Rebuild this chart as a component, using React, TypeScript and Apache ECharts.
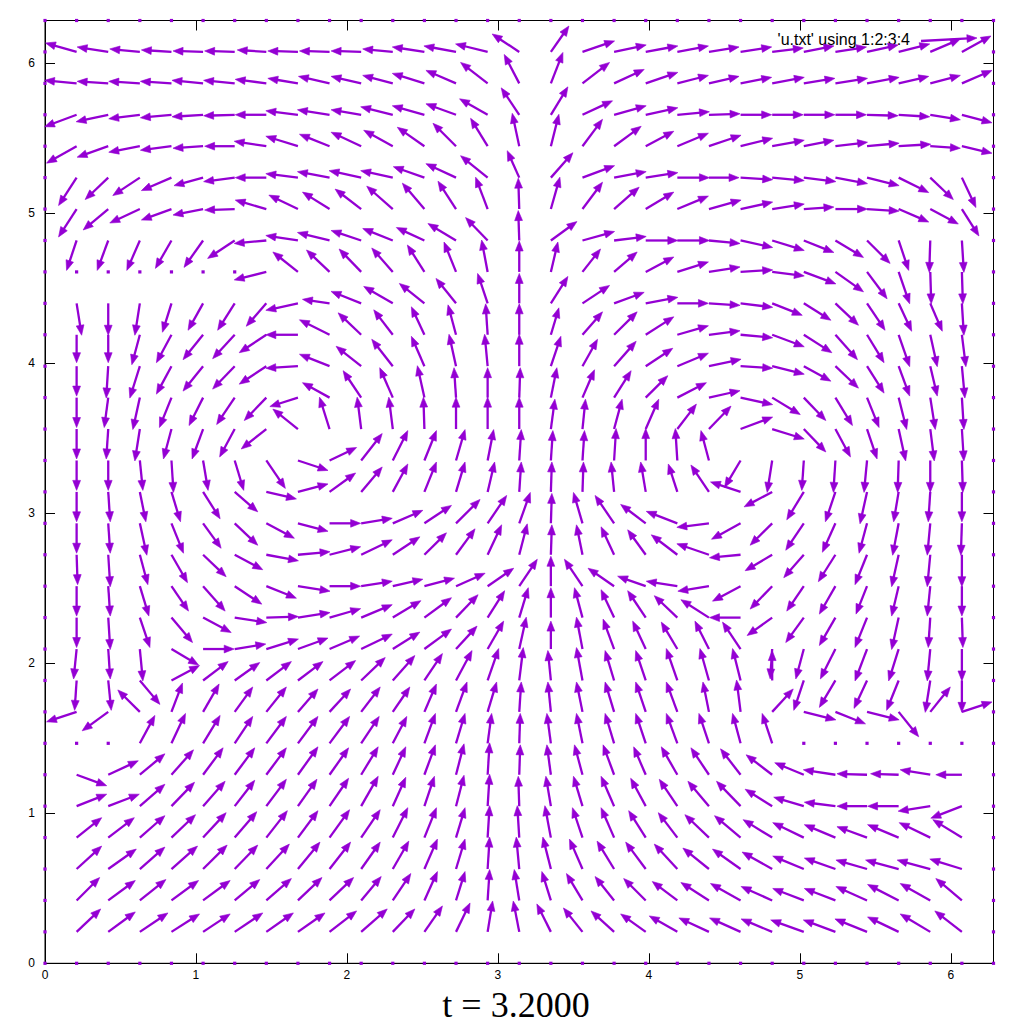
import React, { useEffect, useRef } from 'react';
import * as echarts from 'echarts';

// grid: 31 x 31 nodes from 0 to 2*pi (30 intervals)
const N_INT = 30;
const STEP = (2 * Math.PI) / N_INT;
// vector components below are recorded in 1/150.5 of an axis unit
const VEC_UNIT = 1 / 150.5;

const X_TICKS = [0, 1, 2, 3, 4, 5, 6];
const Y_TICKS = [0, 1, 2, 3, 4, 5, 6];
const TITLE = 't = 3.2000';
const LEGEND_LABEL = "'u.txt' using 1:2:3:4";
const COLOR = '#9400d3';

// rows j = 1..29 (bottom to top), columns i = 1..29 (left to right)
const U_ROWS: number[][] = [
  [24,27,28,28,27,28,27,27,27,26,22,18,14,5,-6,-14,-19,-23,-25,-28,-30,-31,-31,-33,-32,-32,-31,-30,-27],
  [23,27,26,27,27,25,25,24,24,20,18,13,9,2,-5,-9,-16,-19,-22,-25,-28,-30,-31,-31,-31,-31,-31,-30,-26],
  [25,28,25,26,24,23,23,22,21,19,16,13,9,2,-3,-8,-13,-17,-20,-23,-26,-28,-30,-31,-31,-31,-33,-33,-32],
  [25,26,25,24,23,22,21,20,20,19,15,12,9,2,-2,-6,-10,-13,-17,-19,-24,-26,-29,-31,-31,-30,-31,-31,-29],
  [30,31,25,23,22,20,20,19,19,17,13,10,8,2,-1,-5,-9,-13,-15,-18,-21,-24,-27,-30,-31,-30,-31,-32,-31],
  [30,30,25,22,20,20,20,20,19,17,13,11,8,2,1,-4,-8,-11,-12,-16,-18,-20,-26,-29,-32,-30,-28,-30,-26],
  [0,0,15,14,17,18,20,20,20,18,14,11,9,4,1,-4,-6,-9,-10,-11,-10,-8,-10,0,0,0,0,0,0],
  [-30,-26,-22,11,16,18,20,20,21,19,17,12,11,9,2,-3,-6,-9,-10,-11,-6,-4,21,32,30,32,20,20,30],
  [-2,3,20,28,25,25,25,25,26,24,22,18,16,11,4,-3,-6,-9,-10,-11,-9,-8,0,-10,-16,-13,-12,-5,0],
  [-3,2,3,27,31,31,32,30,30,31,27,27,21,16,7,0,-6,-11,-13,-16,-14,-18,-2,-8,-15,-12,-10,-3,0],
  [0,2,10,21,28,32,32,32,31,31,28,27,22,17,9,0,-8,-13,-18,-23,-28,-31,-25,-18,-16,-12,-7,-2,1],
  [0,2,9,17,22,27,30,32,31,31,30,30,29,26,18,0,-18,-26,-28,-31,-31,-28,-22,-17,-16,-11,-7,-3,0],
  [1,2,8,16,23,28,32,32,31,31,27,22,19,14,8,1,-6,-13,-18,-26,-32,-31,-27,-20,-17,-12,-7,-3,0],
  [0,2,7,12,18,23,28,30,31,31,30,27,24,19,11,1,-9,-19,-25,-31,-32,-29,-22,-18,-13,-8,-6,-3,-1],
  [0,2,6,9,17,23,30,30,26,21,15,12,9,7,2,1,1,-3,-5,-9,-18,-30,-28,-17,-10,-7,-5,-2,0],
  [0,0,3,2,5,9,19,30,27,21,15,12,9,6,2,2,2,2,0,-2,-8,-16,-5,-2,-2,-3,-1,0,1],
  [0,-2,-5,-8,-11,-15,-25,-25,-10,-4,-4,-1,0,0,0,4,3,8,13,19,22,32,32,22,15,10,7,4,2],
  [0,-4,-7,-12,-14,-18,-22,-28,-27,-18,-13,-7,-2,0,1,6,12,17,22,29,31,32,28,22,17,12,8,5,2],
  [0,-2,-10,-15,-20,-22,-27,-32,-30,-25,-21,-13,-7,-3,0,10,15,22,27,31,32,32,32,27,23,17,11,7,3],
  [0,0,-8,-15,-20,-22,-27,-32,-30,-23,-19,-13,-8,-2,0,8,20,23,28,31,31,32,32,28,22,17,11,7,4],
  [5,0,-5,-9,-15,-17,-20,-32,-27,-30,-29,-25,-20,-10,0,17,27,30,32,31,31,32,30,27,23,18,13,12,2],
  [0,0,0,0,0,0,-32,-25,-23,-22,-21,-17,-12,-6,0,7,18,23,28,31,31,32,32,32,28,20,11,1,1],
  [-10,-11,-13,-16,-19,-27,-32,-32,-32,-30,-30,-28,-28,-22,-1,26,32,32,32,32,31,32,32,30,28,23,10,-1,2],
  [-18,-25,-30,-30,-30,-30,-31,-29,-27,-26,-26,-22,-18,-12,-1,9,20,25,28,31,32,32,32,30,32,32,30,28,17],
  [-18,-23,-27,-30,-29,-31,-31,-32,-32,-32,-32,-31,-30,-27,-12,22,32,32,32,32,30,32,32,32,32,32,30,23,14],
  [-30,-31,-31,-31,-30,-30,-32,-32,-30,-30,-29,-27,-23,-17,-7,8,20,27,28,31,32,32,32,30,32,32,32,30,30],
  [-32,-32,-31,-31,-31,-31,-31,-32,-32,-30,-32,-32,-30,-28,-18,17,30,32,32,32,31,31,31,31,31,31,31,30,30],
  [-32,-31,-31,-31,-31,-31,-31,-30,-31,-30,-30,-32,-30,-27,-15,12,27,30,32,31,30,31,32,31,32,32,30,30,30],
  [-31,-31,-30,-30,-30,-30,-29,-30,-30,-30,-30,-32,-32,-32,-27,18,32,32,32,31,30,31,31,30,31,31,31,30,29],
];

const V_ROWS: number[][] = [
  [23,20,19,18,18,19,19,19,21,23,23,26,29,31,31,28,24,21,18,16,14,14,13,12,12,13,15,18,21],
  [23,20,21,20,20,21,22,23,23,24,27,29,29,31,31,29,27,24,22,19,18,17,14,12,12,14,16,17,22],
  [23,20,22,23,24,24,25,27,27,27,28,30,30,32,32,32,30,28,27,25,21,20,17,13,11,9,9,9,10],
  [20,20,22,23,25,26,27,27,28,28,30,30,30,32,32,32,30,30,27,25,23,22,18,15,13,11,13,15,18],
  [12,12,22,24,25,26,27,27,28,30,29,30,31,32,30,30,30,30,28,27,25,25,17,9,4,0,0,-5,-12],
  [-11,14,21,25,27,27,27,28,27,28,28,30,31,32,30,30,30,30,28,28,27,26,20,12,5,1,1,5,0],
  [0,0,28,30,28,27,27,27,27,27,27,30,30,30,30,30,30,30,30,30,30,30,30,0,0,0,0,0,0],
  [-10,-19,22,29,28,25,25,23,23,25,25,28,30,30,30,30,30,30,30,30,30,32,23,-8,-12,-8,-25,25,10],
  [-30,-30,-24,15,19,18,19,19,20,23,25,27,30,32,33,30,33,30,30,32,32,32,30,-30,-27,-28,-30,-32,-32],
  [-30,-30,-32,-16,0,5,10,11,13,15,17,20,23,28,32,28,32,30,28,27,28,27,-30,-30,-30,-32,-32,-32,-32],
  [-30,-32,-30,-25,-15,-5,1,5,9,13,17,20,23,27,30,30,30,28,27,22,18,0,-18,-25,-28,-30,-32,-30,-30],
  [-30,-30,-30,-25,-25,-18,-12,-5,0,5,7,8,13,18,27,30,27,18,10,5,-5,-15,-23,-25,-28,-28,-30,-30,-30],
  [-30,-32,-30,-28,-22,-15,-6,3,8,15,18,22,26,30,31,30,30,28,25,20,11,-3,-16,-23,-27,-30,-32,-32,-32],
  [-30,-30,-32,-30,-25,-22,-15,-8,0,5,13,18,24,28,31,30,31,28,19,12,-4,-16,-22,-27,-29,-30,-32,-32,-32],
  [-30,-30,-30,-30,-27,-20,-7,8,19,25,28,30,30,30,30,30,30,30,30,28,27,10,-15,-28,-30,-32,-30,-30,-30],
  [-30,-30,-30,-32,-30,-30,-28,-10,13,27,30,30,31,31,31,30,30,32,32,32,30,-27,-32,-30,-32,-32,-32,-32,-32],
  [-30,-30,-32,-30,-30,-28,-20,20,32,32,32,32,32,32,32,30,30,30,30,25,23,12,-10,-23,-28,-30,-32,-32,-32],
  [-30,-30,-32,-30,-28,-27,-23,-9,15,27,30,32,30,30,30,30,28,27,22,15,7,-7,-17,-23,-28,-30,-32,-32,-32],
  [-30,-32,-32,-28,-25,-23,-18,-2,12,20,27,30,32,32,32,30,27,25,18,13,7,-2,-8,-15,-22,-27,-30,-30,-32],
  [-28,-28,-30,-28,-25,-24,-18,0,15,22,25,28,30,31,31,27,23,23,18,9,4,-3,-12,-18,-25,-28,-32,-32,-32],
  [-32,-32,-32,-29,-27,-27,-23,-7,4,12,17,20,25,30,30,27,18,11,6,0,-2,-4,-12,-17,-22,-27,-28,-28,-32],
  [0,0,0,0,0,0,-8,20,22,23,24,27,30,32,31,30,23,20,15,10,5,2,-4,-12,-20,-27,-32,-32,-32],
  [-30,-30,-30,-28,-27,-18,-3,5,8,10,12,13,17,23,30,19,9,4,0,0,-3,-7,-10,-12,-17,-23,-30,-32,-32],
  [-28,-21,-14,-11,-6,-1,9,14,17,20,23,26,28,32,31,32,27,22,17,13,9,7,5,2,0,-2,-13,-15,-27],
  [-28,-22,-18,-13,-8,-4,0,4,6,7,7,11,14,22,27,25,12,6,5,0,0,-2,-3,-4,-6,-8,-15,-22,-30],
  [-17,-11,-6,-4,-2,0,5,10,12,14,16,19,23,28,33,32,27,20,15,13,11,8,6,6,4,3,2,-2,-7],
  [-12,-7,-4,-3,-2,-1,0,4,5,5,8,9,11,16,27,28,14,9,7,3,1,0,0,0,0,-1,-2,-5,-8],
  [3,2,2,2,3,3,4,5,7,7,8,10,13,21,29,31,21,14,11,8,7,6,6,5,5,6,7,8,13],
  [9,5,3,2,1,1,2,1,1,1,3,5,6,8,18,26,11,7,6,6,5,5,4,6,5,7,8,13,16],
];

const HEAD_LEN = 10;
const HEAD_HALF = 3.9;
const LINE_W = 2.3;

function buildData(): number[][] {
  const out: number[][] = [];
  for (let j = 0; j <= N_INT; j++) {
    for (let i = 0; i <= N_INT; i++) {
      let u = 0;
      let v = 0;
      if (j >= 1 && j <= N_INT - 1 && i >= 1 && i <= N_INT - 1) {
        u = (U_ROWS[j - 1][i - 1] || 0) * VEC_UNIT;
        v = (V_ROWS[j - 1][i - 1] || 0) * VEC_UNIT;
      }
      out.push([i * STEP, j * STEP, u, v]);
    }
  }
  return out;
}

function arrowShapes(x0: number, y0: number, x1: number, y1: number, lw: number) {
  const dx = x1 - x0;
  const dy = y1 - y0;
  const L = Math.hypot(dx, dy);
  const ux = dx / L;
  const uy = dy / L;
  const hl = Math.min(HEAD_LEN, L * 0.6);
  const bx = x1 - ux * hl;
  const by = y1 - uy * hl;
  return [
    {
      type: 'line',
      shape: { x1: x0, y1: y0, x2: bx + ux * 1.5, y2: by + uy * 1.5 },
      style: { stroke: COLOR, lineWidth: lw },
    },
    {
      type: 'polygon',
      shape: {
        points: [
          [x1, y1],
          [bx - uy * HEAD_HALF, by + ux * HEAD_HALF],
          [bx + uy * HEAD_HALF, by - ux * HEAD_HALF],
        ],
      },
      style: { fill: COLOR, stroke: COLOR, lineWidth: 0.6 },
    },
  ];
}

export default function App() {
  const ref = useRef<HTMLDivElement>(null);
  useEffect(() => {
    if (!ref.current) return;
    const chart = echarts.init(ref.current, undefined, { renderer: 'svg' });
    const data = buildData();
    const axisCommon = {
      type: 'value' as const,
      min: 0,
      max: 2 * Math.PI,
      interval: 1,
      splitLine: { show: false },
      axisLine: { show: true, onZero: false, lineStyle: { color: '#000', width: 1 } },
    };
    const labelFmt = (val: number) => (Math.abs(val - Math.round(val)) < 1e-9 ? String(Math.round(val)) : '');
    chart.setOption({
      animation: false,
      backgroundColor: '#fff',
      grid: {
        left: 45,
        top: 20.5,
        right: 30.5,
        bottom: 60.7,
        show: true,
        borderColor: '#000',
        borderWidth: 1,
      },
      xAxis: [
        {
          ...axisCommon,
          position: 'bottom',
          axisTick: { show: true, inside: true, length: 10, lineStyle: { color: '#000' }, customValues: X_TICKS },
          axisLabel: {
            show: true,
            customValues: X_TICKS,
            formatter: labelFmt,
            color: '#000',
            fontFamily: 'Liberation Sans',
            fontSize: 12,
            lineHeight: 12,
            margin: 6,
          },
        },
        {
          ...axisCommon,
          position: 'top',
          axisTick: { show: true, inside: true, length: 10, lineStyle: { color: '#000' }, customValues: X_TICKS },
          axisLabel: { show: false },
        },
      ],
      yAxis: [
        {
          ...axisCommon,
          position: 'left',
          axisTick: { show: true, inside: true, length: 10, lineStyle: { color: '#000' }, customValues: Y_TICKS },
          axisLabel: {
            show: true,
            customValues: Y_TICKS,
            formatter: labelFmt,
            color: '#000',
            fontFamily: 'Liberation Sans',
            fontSize: 12,
            margin: 10,
          },
        },
        {
          ...axisCommon,
          position: 'right',
          axisTick: { show: true, inside: true, length: 10, lineStyle: { color: '#000' }, customValues: Y_TICKS },
          axisLabel: { show: false },
        },
      ],
      series: [
        {
          type: 'custom',
          xAxisIndex: 0,
          yAxisIndex: 0,
          silent: true,
          clip: false,
          z: 5,
          encode: { x: 0, y: 1 },
          data,
          renderItem: (_params: any, api: any) => {
            const x = api.value(0);
            const y = api.value(1);
            const u = api.value(2);
            const v = api.value(3);
            const p0 = api.coord([x, y]);
            const p1 = api.coord([x + u, y + v]);
            const L = Math.hypot(p1[0] - p0[0], p1[1] - p0[1]);
            if (L < 1) {
              return {
                type: 'rect',
                shape: { x: p0[0] - 1.6, y: p0[1] - 1.6, width: 3.2, height: 3.2 },
                style: { fill: COLOR },
              };
            }
            return { type: 'group', children: arrowShapes(p0[0], p0[1], p1[0], p1[1], LINE_W) };
          },
        },
      ],
      graphic: [
        {
          type: 'text',
          x: 910,
          y: 39,
          style: {
            text: LEGEND_LABEL,
            fill: '#000',
            font: '16px "Liberation Sans"',
            textAlign: 'right',
            align: 'right',
            textVerticalAlign: 'middle',
            verticalAlign: 'middle',
          },
        },
        {
          type: 'group',
          children: arrowShapes(921, 41, 977, 38, LINE_W),
        },
        {
          type: 'text',
          x: 516,
          y: 1005,
          style: {
            text: TITLE,
            fill: '#000',
            font: '36px "Liberation Serif"',
            lineHeight: 36,
            textAlign: 'center',
            align: 'center',
            textVerticalAlign: 'middle',
            verticalAlign: 'middle',
          },
        },
      ],
    });
    return () => chart.dispose();
  }, []);
  return <div ref={ref} style={{ position: 'absolute', left: 0, top: 0, width: 1024, height: 1024 }} />;
}
